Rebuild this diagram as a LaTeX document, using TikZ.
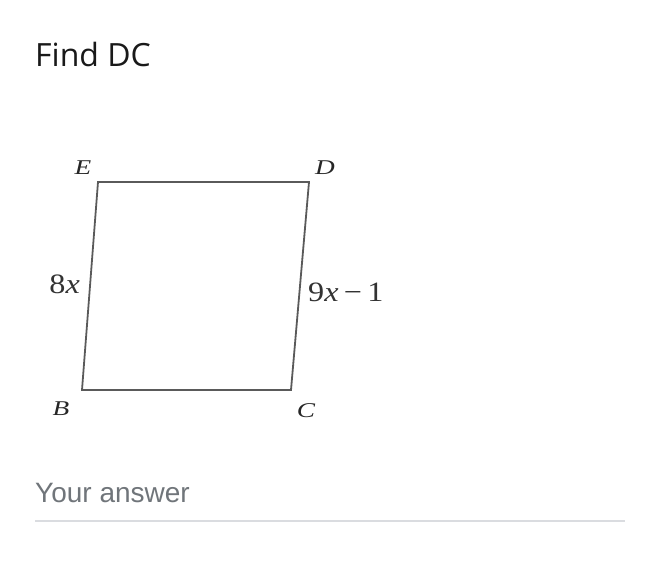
\documentclass[tikz,border=0pt]{standalone}
\usepackage{graphicx}
\usepackage{fontspec}
\newfontfamily\titlefont{Open Sans}
\newfontfamily\answerfont{Liberation Sans}
\newfontfamily\figfont{Liberation Serif}
\definecolor{edge}{HTML}{5A5A5A}
\definecolor{hint}{HTML}{70757A}
\definecolor{rule}{HTML}{DADCE0}
\newcommand{\wide}[1]{\scalebox{1.3}[1]{#1}}
\newcommand{\wider}[1]{\scalebox{1.15}[1]{#1}}
\begin{document}
\begin{tikzpicture}[x=1pt,y=-1pt,
  side/.style={draw=edge,line width=1.8pt,line join=miter},
  vlabel/.style={font=\figfont\itshape\fontsize{21}{21}\selectfont,text=black!85,inner sep=0pt},
  slabel/.style={font=\figfont\fontsize{28}{28}\selectfont,text=black!80,inner sep=0pt}]
\useasboundingbox[fill=white] (0,0) rectangle (657,577);
\node[anchor=base west,inner sep=0pt,font=\titlefont\fontsize{32}{32}\selectfont,text=black!90] (title) at (35,67) {Find DC};
\coordinate (E) at (98,182);
\coordinate (D) at (309,182);
\coordinate (C) at (291,390);
\coordinate (B) at (82,390);
\draw[side] (E) -- (D) -- (C) -- (B) -- cycle;
\node[vlabel] (lE) at (83,168) {\wide{E}};
\node[vlabel] (lD) at (325,168) {\wide{D}};
\node[vlabel] (lB) at (61,409) {\wide{B}};
\node[vlabel] (lC) at (306,411) {\wide{C}};
\node[slabel,anchor=base east] (l8x) at (80,294) {\wider{8\textit{x}}};
\node[slabel,anchor=base west] (l9x) at (308,302) {\wider{9\textit{x}\,−\,1}};
\node[anchor=base west,inner sep=0pt,font=\answerfont\fontsize{28}{28}\selectfont,text=hint] (ans) at (35,503) {Your answer};
\coordinate (r1) at (35,521);
\coordinate (r2) at (625,521);
\draw[draw=rule,line width=1.5pt] (r1) -- (r2);
\end{tikzpicture}
\end{document}
